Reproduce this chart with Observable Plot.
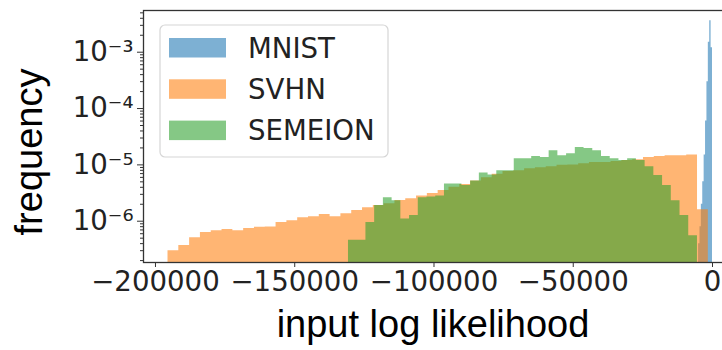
<!DOCTYPE html>
<html><head><meta charset="utf-8">
<script src="https://cdn.jsdelivr.net/npm/d3@7"></script>
<script src="https://cdn.jsdelivr.net/npm/@observablehq/plot@0.6"></script>
<style>body{margin:0;background:#fff;} svg{display:block}</style>
</head><body><div id="chart"></div>
<script>
const seriesNames = ["MNIST", "SVHN", "SEMEION"];
const seriesColors = ["#1f77b4", "#ff7f0e", "#2ca02c"];

// MNIST histogram (bin start, bin width, frequencies)
const mnistStart = -5000, mnistBinWidth = 500;
const mnistFreq = [4e-7, 8e-7, 2e-6, 5e-6, 1.5e-5, 6e-5, 3e-4, 1.5e-3, 3.6e-3, 1.2e-3];

// SVHN histogram
const svhnStart = -195500, svhnBinWidth = 3880;
const svhnFreq = [3.0e-7, 3.7e-7, 5.1e-7, 6.3e-7, 6.8e-7, 7.1e-7, 6.8e-7, 7.4e-7, 7.8e-7, 7.9e-7,
  9.5e-7, 1.02e-6, 1.15e-6, 1.2e-6, 1.32e-6, 1.2e-6, 1.35e-6, 1.55e-6, 1.74e-6, 1.9e-6,
  2.04e-6, 2.34e-6, 2.5e-6, 2.8e-6, 3.1e-6, 3.5e-6, 4.0e-6, 4.5e-6, 5.2e-6, 5.9e-6,
  6.8e-6, 7.6e-6, 7.9e-6, 8.5e-6, 8.9e-6, 9.3e-6, 9.8e-6, 1.0e-5, 1.05e-5, 1.1e-5,
  1.1e-5, 1.15e-5, 1.2e-5, 1.23e-5, 1.35e-5, 1.41e-5, 1.45e-5, 1.45e-5, 1.5e-5, 1.6e-6];

// SEMEION histogram
const semeionStart = -130700, semeionBinWidth = 3132.5;
const semeionFreq = [4.6e-7, 4.6e-7, 9.5e-7, 1.9e-6, 2.6e-6, 2.3e-6, 1.1e-6, 1.26e-6, 2.6e-6, 2.7e-6,
  2.8e-6, 4.6e-6, 4.6e-6, 4.3e-6, 5.2e-6, 7.2e-6, 6.6e-6, 7.9e-6, 7.9e-6, 1.29e-5,
  1.29e-5, 1.41e-5, 1.35e-5, 1.78e-5, 1.45e-5, 1.58e-5, 2.04e-5, 1.95e-5, 1.78e-5, 1.41e-5,
  1.29e-5, 1.2e-5, 1.29e-5, 1.2e-5, 9.3e-6, 6.5e-6, 4.3e-6, 2.3e-6, 1.26e-6, 5.5e-7];

const xTicks = [-200000, -150000, -100000, -50000, 0];
const xTickLabels = ["−200000", "−150000", "−100000", "−50000", "0"];
const yTicks = [1e-3, 1e-4, 1e-5, 1e-6];
const yTickLabels = ["10⁻³", "10⁻⁴", "10⁻⁵", "10⁻⁶"];
const xLabel = "input log likelihood";
const yLabel = "frequency";

function steps(name, start, w, vals) {
  const pts = vals.map((v, i) => ({series: name, x: start + i * w, y: v}));
  pts.push({series: name, x: start + vals.length * w, y: vals[vals.length - 1]});
  return pts;
}
const hists = [
  steps("MNIST", mnistStart, mnistBinWidth, mnistFreq),
  steps("SVHN", svhnStart, svhnBinWidth, svhnFreq),
  steps("SEMEION", semeionStart, semeionBinWidth, semeionFreq)
];

const minorTicks = [];
for (let k = -7; k <= -3; k++) for (let m = 2; m <= 9; m++) {
  const v = m * Math.pow(10, k);
  if (v > 1.85e-7 && v < 5.5e-3) minorTicks.push(v);
}

const FS = 27.6;
const ALPHA = 0.58;
const plot = Plot.plot({
  width: 722, height: 350,
  marginLeft: 143, marginRight: -10, marginTop: 10, marginBottom: 88,
  style: {fontFamily: "DejaVu Sans", background: "#fff"},
  x: {domain: [-204300, 7180]},
  y: {type: "log", domain: [1.85e-7, 5.5e-3]},
  marks: [
    ...hists.map((h, i) => Plot.areaY(h, {
      x: "x", y1: 1e-9, y2: "y", curve: "step-after",
      fill: seriesColors[i], fillOpacity: ALPHA, clip: true
    })),
    Plot.frame({stroke: "#333", strokeWidth: 1.3}),
    Plot.axisY({ticks: minorTicks, tickSize: 3, tickFormat: () => "", label: null, stroke: "#333"}),
    Plot.axisY({ticks: yTicks, tickSize: 6, tickPadding: 4, label: null, stroke: "#333",
      tickFormat: d => yTickLabels[yTicks.indexOf(d)], fontSize: FS, fill: "#222"}),
    Plot.axisX({ticks: xTicks, tickSize: 5, tickPadding: 4, label: null, stroke: "#333",
      tickFormat: d => xTickLabels[xTicks.indexOf(d)], fontSize: FS, fill: "#222"})
  ]
});
document.getElementById("chart").appendChild(plot);

const svg = d3.select(plot);
// legend
const lg = svg.append("g").attr("text-anchor", "start");
lg.append("rect").attr("x", 160).attr("y", 25).attr("width", 228).attr("height", 132)
  .attr("rx", 5).attr("fill", "#fff").attr("fill-opacity", 0.8).attr("stroke", "#d6d6d6").attr("stroke-width", 1.2);
seriesNames.forEach((name, i) => {
  const y = 38 + i * 41.3;
  lg.append("rect").attr("x", 169).attr("y", y).attr("width", 57).attr("height", 19.5)
    .attr("fill", seriesColors[i]).attr("fill-opacity", ALPHA);
  lg.append("text").attr("x", 248).attr("y", y + 9.75).attr("dy", "0.36em").attr("text-anchor", "start")
    .attr("font-family", "DejaVu Sans").attr("font-size", FS).attr("fill", "#222").text(name);
});
// axis labels
svg.append("text").attr("x", 433).attr("y", 337).attr("text-anchor", "middle")
  .attr("font-family", "Liberation Sans").attr("font-size", 38).attr("fill", "#000").text(xLabel);
svg.append("text").attr("transform", "translate(42,152) rotate(-90)").attr("text-anchor", "middle")
  .attr("font-family", "Liberation Sans").attr("font-size", 38).attr("fill", "#000").text(yLabel);
</script>
</body></html>
